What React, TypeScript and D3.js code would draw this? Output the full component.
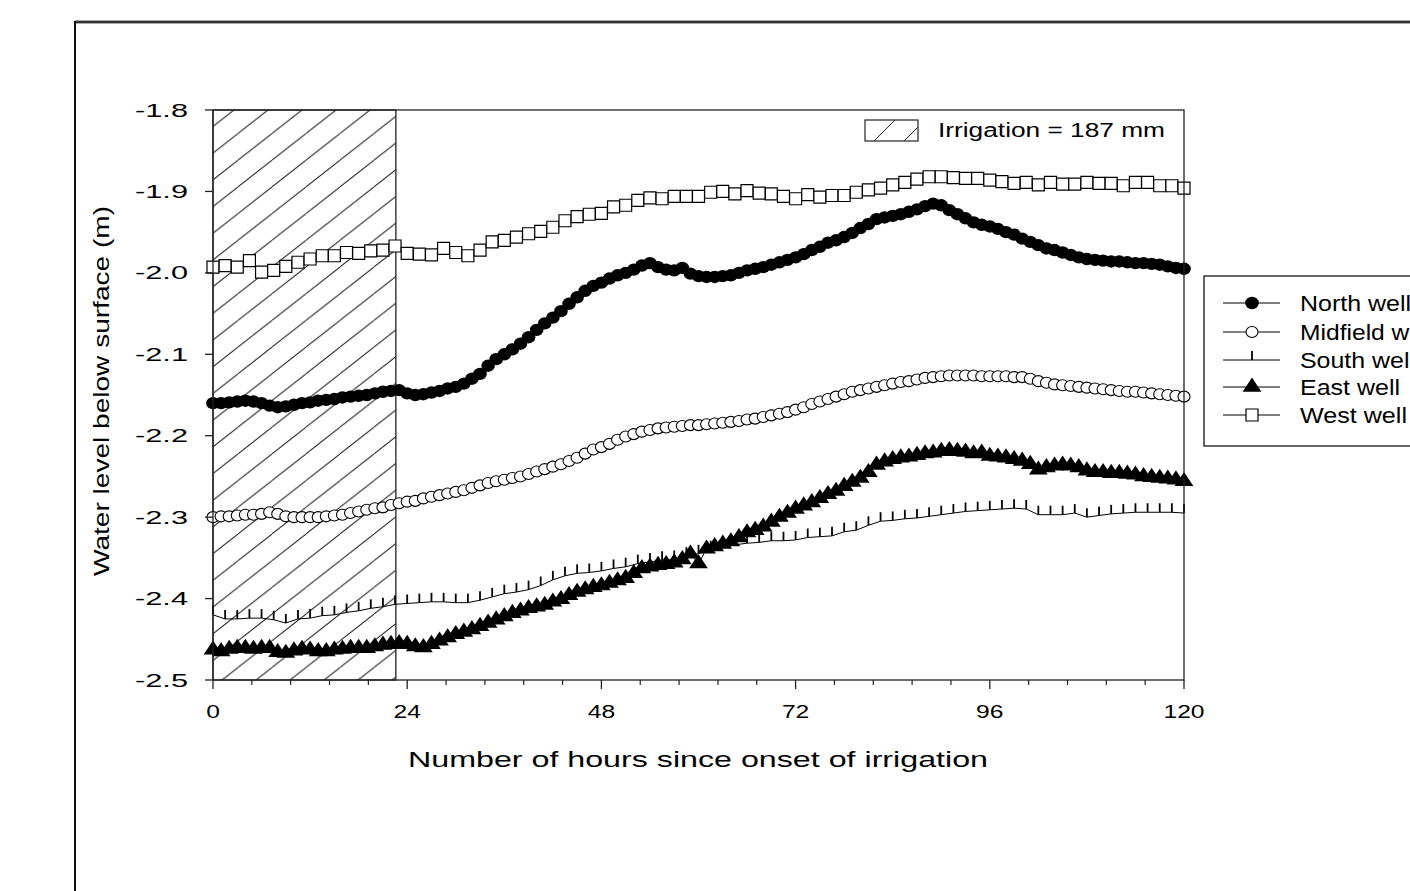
import React from "react";
import * as d3 from "d3";

// sample times (hours since onset of irrigation)
const hourly = d3.range(0, 121, 1);
const every90min = d3.range(0, 121, 1.5);

const northWell = [
  -2.160, -2.160, -2.159, -2.158, -2.157, -2.158, -2.160, -2.163, -2.165, -2.164,
  -2.162, -2.160, -2.159, -2.157, -2.156, -2.155, -2.153, -2.152, -2.151, -2.150,
  -2.148, -2.146, -2.145, -2.144, -2.148, -2.150, -2.149, -2.147, -2.145, -2.142,
  -2.140, -2.136, -2.130, -2.124, -2.114, -2.106, -2.100, -2.094, -2.087, -2.079,
  -2.070, -2.062, -2.055, -2.047, -2.038, -2.030, -2.022, -2.016, -2.012, -2.007,
  -2.003, -2.000, -1.996, -1.991, -1.988, -1.993, -1.996, -1.997, -1.994, -2.001,
  -2.004, -2.005, -2.005, -2.004, -2.003, -2.000, -1.997, -1.995, -1.993, -1.990,
  -1.987, -1.984, -1.981, -1.977, -1.972, -1.968, -1.963, -1.960, -1.956, -1.951,
  -1.945, -1.940, -1.934, -1.932, -1.930, -1.928, -1.925, -1.922, -1.918, -1.915,
  -1.917, -1.923, -1.928, -1.933, -1.938, -1.941, -1.943, -1.946, -1.950, -1.953,
  -1.958, -1.962, -1.966, -1.970, -1.972, -1.975, -1.978, -1.981, -1.983, -1.984,
  -1.985, -1.986, -1.986, -1.987, -1.988, -1.988, -1.989, -1.990, -1.992, -1.994,
  -1.995,
];

const midfieldWell = [
  -2.300, -2.299, -2.299, -2.298, -2.297, -2.297, -2.296, -2.294, -2.296, -2.299,
  -2.300, -2.300, -2.300, -2.300, -2.299, -2.298, -2.297, -2.295, -2.293, -2.291,
  -2.289, -2.288, -2.285, -2.283, -2.281, -2.280, -2.277, -2.275, -2.273, -2.271,
  -2.269, -2.267, -2.264, -2.261, -2.258, -2.256, -2.254, -2.252, -2.250, -2.247,
  -2.244, -2.241, -2.238, -2.235, -2.231, -2.227, -2.222, -2.217, -2.214, -2.210,
  -2.205, -2.201, -2.198, -2.195, -2.193, -2.191, -2.190, -2.189, -2.188, -2.187,
  -2.187, -2.186, -2.185, -2.184, -2.183, -2.182, -2.180, -2.179, -2.177, -2.175,
  -2.173, -2.171, -2.168, -2.165, -2.161, -2.158, -2.155, -2.152, -2.149, -2.146,
  -2.144, -2.142, -2.140, -2.138, -2.136, -2.134, -2.133, -2.131, -2.129, -2.128,
  -2.127, -2.126, -2.126, -2.126, -2.126, -2.127, -2.127, -2.127, -2.127, -2.128,
  -2.128, -2.130, -2.133, -2.135, -2.137, -2.138, -2.139, -2.140, -2.141, -2.142,
  -2.143, -2.144, -2.145, -2.146, -2.146, -2.147, -2.148, -2.149, -2.150, -2.151,
  -2.152,
];

const southWell = [
  -2.420, -2.425, -2.425, -2.424, -2.424, -2.426, -2.430, -2.425, -2.424, -2.421,
  -2.420, -2.417, -2.415, -2.412, -2.410, -2.407, -2.406, -2.405, -2.404, -2.404,
  -2.405, -2.405, -2.402, -2.398, -2.394, -2.392, -2.389, -2.384, -2.377, -2.372,
  -2.369, -2.368, -2.366, -2.363, -2.361, -2.357, -2.355, -2.353, -2.352, -2.348,
  -2.345, -2.340, -2.337, -2.334, -2.332, -2.331, -2.329, -2.329, -2.328, -2.325,
  -2.324, -2.323, -2.318, -2.316, -2.310, -2.305, -2.304, -2.302, -2.301, -2.299,
  -2.297, -2.295, -2.293, -2.292, -2.291, -2.290, -2.289, -2.290, -2.297, -2.297,
  -2.297, -2.295, -2.300, -2.298, -2.296, -2.295, -2.294, -2.294, -2.294, -2.294,
  -2.295,
];

const eastWell = [
  -2.463, -2.465, -2.462, -2.461, -2.461, -2.462, -2.461, -2.461, -2.466, -2.467,
  -2.464, -2.462, -2.463, -2.465, -2.465, -2.463, -2.462, -2.461, -2.461, -2.461,
  -2.459, -2.457, -2.456, -2.455, -2.456, -2.459, -2.460, -2.456, -2.452, -2.448,
  -2.444, -2.441, -2.438, -2.434, -2.430, -2.426, -2.422, -2.418, -2.415, -2.412,
  -2.410, -2.408, -2.404, -2.401, -2.396, -2.392, -2.389, -2.386, -2.384, -2.381,
  -2.378, -2.375, -2.369, -2.363, -2.361, -2.359, -2.358, -2.356, -2.352, -2.345,
  -2.357, -2.339, -2.336, -2.333, -2.330, -2.325, -2.319, -2.316, -2.312, -2.306,
  -2.300, -2.295, -2.290, -2.286, -2.282, -2.277, -2.272, -2.268, -2.262, -2.257,
  -2.252, -2.245, -2.236, -2.232, -2.229, -2.227, -2.226, -2.224, -2.222, -2.221,
  -2.219, -2.218, -2.219, -2.220, -2.222, -2.221, -2.225, -2.226, -2.227, -2.229,
  -2.231, -2.235, -2.242, -2.239, -2.237, -2.236, -2.237, -2.239, -2.243, -2.245,
  -2.245, -2.246, -2.246, -2.247, -2.248, -2.250, -2.251, -2.252, -2.253, -2.254,
  -2.256,
];

const westWell = [
  -1.993, -1.991, -1.993, -1.985, -1.999, -1.997, -1.992, -1.987, -1.983, -1.979,
  -1.979, -1.975, -1.976, -1.973, -1.972, -1.967, -1.976, -1.977, -1.978, -1.970,
  -1.975, -1.979, -1.972, -1.962, -1.960, -1.956, -1.952, -1.949, -1.944, -1.936,
  -1.931, -1.928, -1.927, -1.919, -1.917, -1.911, -1.908, -1.909, -1.906, -1.906,
  -1.906, -1.901, -1.900, -1.903, -1.899, -1.902, -1.903, -1.906, -1.909, -1.904,
  -1.907, -1.905, -1.905, -1.901, -1.898, -1.896, -1.892, -1.889, -1.885, -1.882,
  -1.882, -1.883, -1.884, -1.884, -1.886, -1.888, -1.890, -1.889, -1.892, -1.889,
  -1.891, -1.891, -1.889, -1.890, -1.890, -1.893, -1.889, -1.889, -1.893, -1.893,
  -1.896,
];

const seriesNames = ["North well", "Midfield well", "South well", "East well", "West well"];
const xTickValues = [0, 24, 48, 72, 96, 120];
const yTickValues = [-1.8, -1.9, -2.0, -2.1, -2.2, -2.3, -2.4, -2.5];
const irrigationEnd = 22.6; // hours
const irrigationLabel = "Irrigation = 187 mm";

const FONT = "Arial, 'Liberation Sans', sans-serif";

const x = d3.scaleLinear().domain([0, 120]).range([213, 1184]);
const y = d3.scaleLinear().domain([-2.5, -1.8]).range([680, 110]);

const series = [
  { name: seriesNames[0], t: hourly, v: northWell, marker: "dot" },
  { name: seriesNames[1], t: hourly, v: midfieldWell, marker: "ring" },
  { name: seriesNames[2], t: every90min, v: southWell, marker: "tick" },
  { name: seriesNames[3], t: hourly, v: eastWell, marker: "triangle" },
  { name: seriesNames[4], t: every90min, v: westWell, marker: "square" },
];

const triPath = d3.symbol().type(d3.symbolTriangle).size(115)()!;
const sqPath = d3.symbol().type(d3.symbolSquare).size(144)()!;

function Marker({ kind, cx, cy }: { kind: string; cx: number; cy: number }) {
  const t = `translate(${cx},${cy})`;
  if (kind === "dot") return <ellipse cx={cx} cy={cy} rx={6.8} ry={6.2} fill="#000" />;
  if (kind === "ring")
    return <ellipse cx={cx} cy={cy} rx={6} ry={5.5} fill="#fff" stroke="#000" strokeWidth={1.1} />;
  if (kind === "tick")
    return <line x1={cx} x2={cx} y1={cy} y2={cy - 9} stroke="#000" strokeWidth={1.8} />;
  if (kind === "triangle") return <path d={triPath} transform={t + " scale(1.15,1)"} fill="#000" />;
  return <path d={sqPath} transform={t} fill="#fff" stroke="#000" strokeWidth={1.2} />;
}

const line = d3
  .line<[number, number]>()
  .x((d) => x(d[0]))
  .y((d) => y(d[1]));

// widths of the legend texts as seen in the picture (they run off the right edge)
const legendWidths = [111, 134, 115, 100, 107];

export default function App() {
  const minorTicks = d3.range(0, 26).map((k) => k * 4.8).filter((_, k) => k % 5 !== 0);
  const legendRows = [303, 332, 360, 387, 415];

  return (
    <svg
      width={1410}
      height={891}
      style={{ position: "absolute", left: 0, top: 0, background: "#fff" }}
      fontFamily={FONT}
    >
      <defs>
        <pattern id="hatch" patternUnits="userSpaceOnUse" width={34} height={26.7}>
          <line x1={0} y1={26.7} x2={34} y2={0} stroke="#222" strokeWidth={1} />
          <line x1={-34} y1={26.7} x2={0} y2={0} stroke="#222" strokeWidth={1} />
          <line x1={34} y1={26.7} x2={68} y2={0} stroke="#222" strokeWidth={1} />
        </pattern>
        <pattern id="hatchSmall" patternUnits="userSpaceOnUse" width={30} height={30} x={865} y={120}>
          <line x1={0} y1={30} x2={30} y2={0} stroke="#222" strokeWidth={1} />
        </pattern>
      </defs>

      {/* page frame */}
      <line x1={75} x2={1410} y1={22} y2={22} stroke="#555" strokeWidth={3} />
      <line x1={75} x2={1410} y1={22} y2={22} stroke="#111" strokeWidth={1} />
      <line x1={75} x2={75} y1={21} y2={891} stroke="#111" strokeWidth={2} />

      {/* irrigation period */}
      <rect
        x={x(0)}
        y={y(-1.8)}
        width={x(irrigationEnd) - x(0)}
        height={y(-2.5) - y(-1.8)}
        fill="url(#hatch)"
        stroke="#222"
        strokeWidth={1.3}
      />

      {/* series */}
      {series.map((s) => {
        const pts = s.t.map((t, i) => [t, s.v[i]] as [number, number]);
        return (
          <g key={s.name}>
            <path d={line(pts)!} fill="none" stroke="#000" strokeWidth={1} />
            {pts.map((p, i) => (
              <Marker key={i} kind={s.marker} cx={x(p[0])} cy={y(p[1])} />
            ))}
          </g>
        );
      })}

      {/* plot frame */}
      <rect x={x(0)} y={y(-1.8)} width={x(120) - x(0)} height={y(-2.5) - y(-1.8)} fill="none" stroke="#222" strokeWidth={1.3} />

      {/* x axis ticks */}
      {xTickValues.map((t) => (
        <g key={t}>
          <line x1={x(t)} x2={x(t)} y1={680} y2={689} stroke="#222" strokeWidth={1.3} />
          <text
            x={x(t) - (String(t).length * 13.7) / 2}
            y={718}
            fontSize={19}
            textLength={String(t).length * 13.7}
            lengthAdjust="spacingAndGlyphs"
          >
            {t}
          </text>
        </g>
      ))}
      {minorTicks.map((t) => (
        <line key={t} x1={x(t)} x2={x(t)} y1={680} y2={685} stroke="#222" strokeWidth={1.2} />
      ))}

      {/* y axis ticks */}
      {yTickValues.map((v) => (
        <g key={v}>
          <line x1={205} x2={x(0)} y1={y(v)} y2={y(v)} stroke="#222" strokeWidth={1.3} />
          <text x={135} y={y(v) + 6.5} fontSize={18.5} textLength={53} lengthAdjust="spacingAndGlyphs">
            {d3.format(".1f")(v).replace("−", "-")}
          </text>
        </g>
      ))}

      {/* axis titles */}
      <text x={408} y={767} fontSize={22} textLength={580} lengthAdjust="spacingAndGlyphs">
        Number of hours since onset of irrigation
      </text>
      <text
        transform={`translate(109,576) rotate(-90)`}
        fontSize={22}
        textLength={370}
        lengthAdjust="spacingAndGlyphs"
      >
        Water level below surface (m)
      </text>

      {/* irrigation key */}
      <rect x={865} y={120} width={53} height={21} fill="url(#hatchSmall)" stroke="#222" strokeWidth={1.2} />
      <text x={938} y={137} fontSize={20} textLength={227} lengthAdjust="spacingAndGlyphs">
        {irrigationLabel}
      </text>

      {/* well legend */}
      <rect x={1204} y={276} width={260} height={170} fill="#fff" stroke="#333" strokeWidth={1.5} />
      {series.map((s, i) => (
        <g key={s.name}>
          <line x1={1223} x2={1280} y1={legendRows[i]} y2={legendRows[i]} stroke="#000" strokeWidth={1} />
          <Marker kind={s.marker} cx={1252} cy={legendRows[i]} />
          <text
            x={1300}
            y={legendRows[i] + 8}
            fontSize={22}
            textLength={legendWidths[i]}
            lengthAdjust="spacingAndGlyphs"
          >
            {s.name}
          </text>
        </g>
      ))}
    </svg>
  );
}
